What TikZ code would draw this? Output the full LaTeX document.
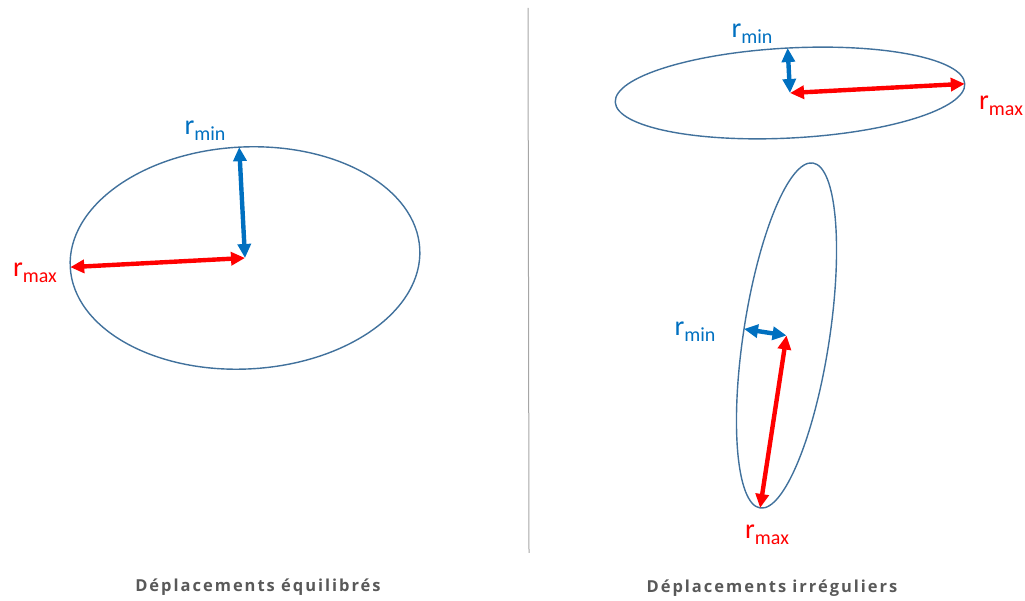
\documentclass[tikz,border=0pt]{standalone}
\usepackage{fontspec}
\setmainfont{Carlito}
\newfontfamily\captionfont[LetterSpace=12]{Open Sans}
\usetikzlibrary{shapes.geometric,arrows.meta}
\definecolor{orbitline}{HTML}{41719C}
\definecolor{minblue}{HTML}{0070C0}
\definecolor{maxred}{HTML}{FF0000}
\definecolor{captiongrey}{HTML}{595959}
\definecolor{rulegrey}{HTML}{A6A6A6}
\newcommand{\rsub}[1]{r\raisebox{-6pt}{\fontsize{20}{20}\selectfont #1}}
\tikzset{
  orbit/.style   = {ellipse, draw=orbitline, line width=1.4pt, inner sep=0pt, outer sep=0pt},
  radius/.style  = {{Triangle[length=14pt,width=13pt]}-{Triangle[length=14pt,width=13pt]},
                    line width=4.4pt},
  rmin/.style    = {radius, draw=minblue},
  rmax/.style    = {radius, draw=maxred},
  rlabel/.style  = {inner sep=0pt, font=\fontsize{28}{28}\selectfont},
  caption/.style = {font=\captionfont\bfseries\fontsize{16.5}{17}\selectfont, text=captiongrey},
}

\begin{document}
\begin{tikzpicture}[x=1pt, y=1pt]
  \useasboundingbox (0,0) rectangle (1025,601);

  % balanced displacement
  \node[orbit, minimum width=350pt, minimum height=222pt, rotate=3] (bal) at (245,343) {};
  \draw[rmin] (bal.north) -- (bal.center);
  \draw[rmax] (bal.west) -- (bal.center);
  \node[rlabel, text=minblue] (balmin) at (205,470) {\rsub{min}};
  \node[rlabel, text=maxred]  (balmax) at (35,328)  {\rsub{max}};

  % separator
  \coordinate (septop) at (528,593);
  \coordinate (sepbot) at (529,48);
  \draw[rulegrey, line width=1pt] (septop) -- (sepbot);

  % irregular displacement, flat
  \node[orbit, minimum width=350pt, minimum height=90pt, rotate=3] (flat) at (790,508) {};
  \draw[rmin] (flat.north) -- (flat.center);
  \draw[rmax] (flat.center) -- (flat.east);
  \node[rlabel, text=minblue] (flatmin) at (752,567) {\rsub{min}};
  \node[rlabel, text=maxred]  (flatmax) at (1001,495) {\rsub{max}};

  % irregular displacement, tall
  \node[orbit, minimum width=86pt, minimum height=349pt, rotate=-8.7] (tall) at (786.5,265.5) {};
  \draw[rmin] (tall.west) -- (tall.center);
  \draw[rmax] (tall.center) -- (tall.south);
  \node[rlabel, text=minblue] (tallmin) at (695,269) {\rsub{min}};
  \node[rlabel, text=maxred]  (tallmax) at (767,66)  {\rsub{max}};

  % captions
  \node[caption] (capbal) at (258,14) {Déplacements équilibrés};
  \node[caption] (capirr) at (772,13) {Déplacements irréguliers};
\end{tikzpicture}
\end{document}
